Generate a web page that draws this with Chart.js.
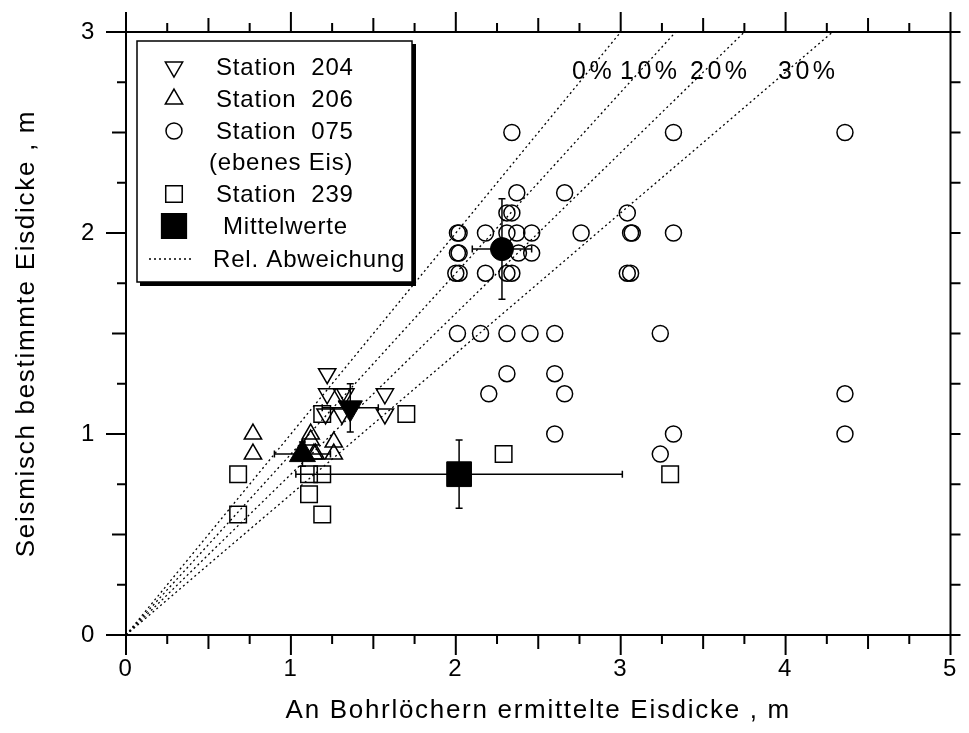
<!DOCTYPE html>
<html>
<head>
<meta charset="utf-8">
<script src="https://cdn.jsdelivr.net/npm/chart.js@4.4.1/dist/chart.umd.min.js"></script>
<style>
  body { margin: 0; background: #fff; }
  #chartBox { width: 969px; height: 733px; }
</style>
</head>
<body>
<div id="chartBox"><canvas id="iceChart" width="969" height="733"></canvas></div>
<script>
// Station 204 (open down triangles)
const st204X = [1.22, 1.22, 1.31, 1.33, 1.57, 1.21, 1.31, 1.57];
const st204Y = [1.30, 1.20, 1.20, 1.20, 1.20, 1.10, 1.10, 1.10];

// Station 206 (open up triangles)
const st206X = [0.77, 0.77, 1.12, 1.12, 1.14, 1.15, 1.26, 1.26];
const st206Y = [1.00, 0.90, 1.00, 0.97, 0.90, 0.90, 0.96, 0.90];

// Station 075, ebenes Eis (open circles)
const st075X = [2.34, 3.32, 4.36, 2.37, 2.66, 2.31, 2.34, 3.04,
  2.01, 2.02, 2.18, 2.31, 2.37, 2.46, 2.76, 3.06, 3.07, 3.32,
  2.01, 2.02, 2.38, 2.46,
  2.00, 2.02, 2.18, 2.31, 2.34, 3.04, 3.06,
  2.01, 2.15, 2.31, 2.45, 2.60, 3.24,
  2.31, 2.60, 2.20, 2.66, 4.36, 2.60, 3.32, 4.36, 3.24];
const st075Y = [2.50, 2.50, 2.50, 2.20, 2.20, 2.10, 2.10, 2.10,
  2.00, 2.00, 2.00, 2.00, 2.00, 2.00, 2.00, 2.00, 2.00, 2.00,
  1.90, 1.90, 1.90, 1.90,
  1.80, 1.80, 1.80, 1.80, 1.80, 1.80, 1.80,
  1.50, 1.50, 1.50, 1.50, 1.50, 1.50,
  1.30, 1.30, 1.20, 1.20, 1.20, 1.00, 1.00, 1.00, 0.90];

// Station 239 (open squares)
const st239X = [0.68, 0.68, 1.11, 1.19, 1.11, 1.19, 1.19, 1.70, 2.29, 3.30];
const st239Y = [0.80, 0.60, 0.80, 0.80, 0.70, 0.60, 1.10, 1.10, 0.90, 0.80];

// Mittelwerte: order 204, 206, 075, 239
const meanX = [1.36, 1.07, 2.28, 2.02];
const meanY = [1.13, 0.90, 1.92, 0.80];
const meanErrX = [0.17, 0.17, 0.18, 0.99];
const meanErrY = [0.12, 0.06, 0.25, 0.17];

// Relative Abweichung lines (percent)
const devPercent = [0, 10, 20, 30];

const xTickLabels = ['0', '1', '2', '3', '4', '5'];
const yTickLabels = ['0', '1', '2', '3'];
const xMax = 5, yMax = 3;

const FONT = '"Liberation Sans", Arial, sans-serif';

function toPoints(xs, ys) {
  return xs.map((x, i) => ({ x: x, y: ys[i] }));
}

function devLine(p) {
  const k = 1 - p / 100;
  const xEnd = Math.min(xMax, yMax / k);
  return [{ x: 0, y: 0 }, { x: xEnd, y: xEnd * k }];
}

const markerBase = {
  showLine: false,
  borderColor: '#000',
  backgroundColor: 'rgba(0,0,0,0)',
  borderWidth: 1.5,
  order: 2
};

const datasets = [];

devPercent.forEach(p => {
  datasets.push({
    label: p + '%',
    data: devLine(p),
    showLine: true,
    borderColor: '#000',
    borderWidth: 1.3,
    borderDash: [2, 3],
    pointRadius: 0,
    fill: false,
    order: 10
  });
});

datasets.push(Object.assign({}, markerBase, {
  label: 'Station 204', data: toPoints(st204X, st204Y),
  pointStyle: 'triangle', pointRotation: 180, pointRadius: 10
}));
datasets.push(Object.assign({}, markerBase, {
  label: 'Station 206', data: toPoints(st206X, st206Y),
  pointStyle: 'triangle', pointRadius: 10
}));
datasets.push(Object.assign({}, markerBase, {
  label: 'Station 075', data: toPoints(st075X, st075Y),
  pointStyle: 'circle', pointRadius: 8
}));
datasets.push(Object.assign({}, markerBase, {
  label: 'Station 239', data: toPoints(st239X, st239Y),
  pointStyle: 'rect', pointRadius: 11.7
}));

// filled means
const meanStyles = [
  { pointStyle: 'triangle', rotation: 180, radius: 14 },
  { pointStyle: 'triangle', rotation: 0, radius: 15 },
  { pointStyle: 'circle', rotation: 0, radius: 11.5 },
  { pointStyle: 'rect', rotation: 0, radius: 17.5 }
];
meanX.forEach((mx, i) => {
  datasets.push({
    label: 'Mittelwert ' + i,
    data: [{ x: mx, y: meanY[i] }],
    showLine: false,
    pointStyle: meanStyles[i].pointStyle,
    pointRotation: meanStyles[i].rotation,
    pointRadius: meanStyles[i].radius,
    backgroundColor: '#000',
    borderColor: '#000',
    borderWidth: 1,
    order: 1
  });
});

// error bars, ticks, frame, labels and legend
const decorPlugin = {
  id: 'decor',
  beforeDraw(chart) {
    // the original lettering runs a bit wide
    chart.ctx.letterSpacing = '1.7px';
  },
  beforeDatasetsDraw(chart) {
    const ctx = chart.ctx;
    const xs = chart.scales.x, ys = chart.scales.y;
    ctx.save();
    ctx.strokeStyle = '#000';
    ctx.lineWidth = 1.5;
    const cap = 3.5;
    meanX.forEach((mx, i) => {
      const px = xs.getPixelForValue(mx), py = ys.getPixelForValue(meanY[i]);
      const x1 = xs.getPixelForValue(mx - meanErrX[i]), x2 = xs.getPixelForValue(mx + meanErrX[i]);
      const y1 = ys.getPixelForValue(meanY[i] - meanErrY[i]), y2 = ys.getPixelForValue(meanY[i] + meanErrY[i]);
      ctx.beginPath();
      ctx.moveTo(x1, py); ctx.lineTo(x2, py);
      ctx.moveTo(x1, py - cap); ctx.lineTo(x1, py + cap);
      ctx.moveTo(x2, py - cap); ctx.lineTo(x2, py + cap);
      ctx.moveTo(px, y1); ctx.lineTo(px, y2);
      ctx.moveTo(px - cap, y1); ctx.lineTo(px + cap, y1);
      ctx.moveTo(px - cap, y2); ctx.lineTo(px + cap, y2);
      ctx.stroke();
    });
    ctx.restore();
  },
  afterDraw(chart) {
    const ctx = chart.ctx;
    const a = chart.chartArea;
    const xs = chart.scales.x, ys = chart.scales.y;
    ctx.save();
    ctx.strokeStyle = '#000';
    ctx.lineWidth = 2;
    ctx.strokeRect(a.left, a.top, a.right - a.left, a.bottom - a.top);

    // outward ticks on all four sides
    const tickLen = v => (Math.abs(v - Math.round(v)) < 1e-6 ? 20 : (Math.abs(v * 2 - Math.round(v * 2)) < 1e-6 ? 14 : 9));
    ctx.beginPath();
    for (let v = 0; v <= xMax + 1e-6; v += 0.25) {
      const px = xs.getPixelForValue(v);
      const len = tickLen(v);
      ctx.moveTo(px, a.bottom); ctx.lineTo(px, a.bottom + len);
      ctx.moveTo(px, a.top); ctx.lineTo(px, a.top - len);
    }
    for (let v = 0; v <= yMax + 1e-6; v += 0.25) {
      const py = ys.getPixelForValue(v);
      ctx.moveTo(a.left, py); ctx.lineTo(a.left - tickLen(v), py);
      ctx.moveTo(a.right, py); ctx.lineTo(a.right + 10, py);
    }
    ctx.stroke();

    // percent labels
    ctx.fillStyle = '#000';
    ctx.font = '25px ' + FONT;
    ctx.textBaseline = 'alphabetic';
    ctx.textAlign = 'left';
    ctx.letterSpacing = '3.5px';
    const pctPos = [572, 620, 690, 778];
    devPercent.forEach((p, i) => {
      ctx.fillText(p + '%', pctPos[i], 79);
    });

    // legend box with shadow
    const L = 137, T = 41, R = 412, B = 282;
    ctx.fillStyle = '#000';
    ctx.fillRect(L + 3, T + 3, R - L + 1, B - T + 1);
    ctx.fillStyle = '#fff';
    ctx.fillRect(L, T, R - L, B - T);
    ctx.lineWidth = 1.5;
    ctx.strokeRect(L, T, R - L, B - T);

    const symX = 174;
    const rows = [
      { text: 'Station  204', tx: 216, y: 75, sym: { pointStyle: 'triangle', rotation: 180, radius: 10 } },
      { text: 'Station  206', tx: 216, y: 107, sym: { pointStyle: 'triangle', rotation: 0, radius: 10 } },
      { text: 'Station  075', tx: 216, y: 139, sym: { pointStyle: 'circle', rotation: 0, radius: 8 } },
      { text: '(ebenes Eis)', tx: 209, y: 170, sym: null },
      { text: 'Station  239', tx: 216, y: 202, sym: { pointStyle: 'rect', rotation: 0, radius: 11.7 } },
      { text: 'Mittelwerte', tx: 223, y: 234, sym: { pointStyle: 'rect', rotation: 0, radius: 17.5 }, filled: true },
      { text: 'Rel. Abweichung', tx: 213, y: 267, sym: 'line' }
    ];
    ctx.font = '24px ' + FONT;
    ctx.letterSpacing = '0.8px';
    rows.forEach(r => {
      ctx.fillStyle = '#000';
      ctx.fillText(r.text, r.tx, r.y);
      const cy = r.y - 8;
      if (r.sym === 'line') {
        ctx.save();
        ctx.lineWidth = 1.3;
        ctx.setLineDash([2, 3]);
        ctx.beginPath();
        ctx.moveTo(149, cy); ctx.lineTo(194, cy);
        ctx.stroke();
        ctx.restore();
      } else if (r.sym) {
        ctx.save();
        ctx.strokeStyle = '#000';
        ctx.fillStyle = r.filled ? '#000' : 'rgba(0,0,0,0)';
        ctx.lineWidth = 1.5;
        Chart.helpers.drawPoint(ctx, Object.assign({ borderWidth: 1.5 }, r.sym), symX, cy);
        ctx.restore();
      }
    });
    ctx.restore();
    ctx.letterSpacing = '0px';
  }
};

const ctx = document.getElementById('iceChart').getContext('2d');
new Chart(ctx, {
  type: 'scatter',
  data: { datasets: datasets },
  options: {
    responsive: false,
    animation: false,
    events: [],
    devicePixelRatio: 1,
    layout: { padding: { top: 32, right: 11, left: 0, bottom: 0 } },
    plugins: {
      legend: { display: false },
      tooltip: { enabled: false }
    },
    scales: {
      x: {
        type: 'linear',
        min: 0,
        max: xMax,
        grid: { display: false },
        border: { display: false },
        ticks: {
          stepSize: 1,
          padding: 12,
          color: '#000',
          font: { family: FONT, size: 24 },
          callback: v => xTickLabels[v]
        },
        title: {
          display: true,
          text: 'An Bohrlöchern ermittelte Eisdicke , m',
          color: '#000',
          font: { family: FONT, size: 26 },
          padding: { top: 0, bottom: 7 }
        },
        afterFit: scale => {
          scale.height = 98;
          scale.paddingLeft = 0;
          scale.paddingRight = 0;
        }
      },
      y: {
        type: 'linear',
        min: 0,
        max: yMax,
        grid: { display: false },
        border: { display: false },
        ticks: {
          stepSize: 1,
          padding: 22,
          color: '#000',
          font: { family: FONT, size: 24 },
          callback: v => yTickLabels[v]
        },
        title: {
          display: true,
          text: 'Seismisch bestimmte Eisdicke , m',
          color: '#000',
          font: { family: FONT, size: 26 },
          padding: { top: 11, bottom: 0 }
        },
        afterFit: scale => {
          scale.width = 126;
          scale.paddingTop = 0;
          scale.paddingBottom = 0;
        }
      }
    }
  },
  plugins: [decorPlugin]
});
</script>
</body>
</html>
